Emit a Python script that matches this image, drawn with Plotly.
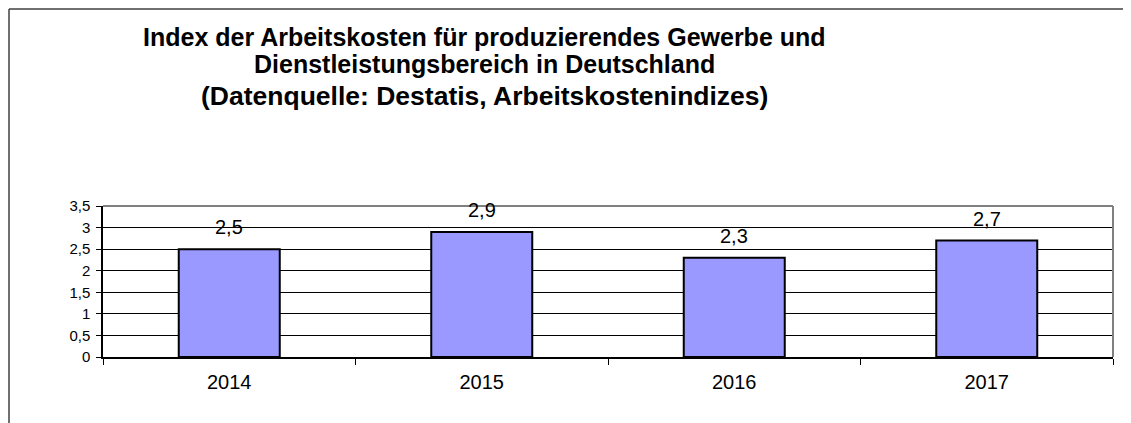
import plotly.graph_objects as go

years = ["2014", "2015", "2016", "2017"]
values = [2.5, 2.9, 2.3, 2.7]
y_ticks = [0, 0.5, 1, 1.5, 2, 2.5, 3, 3.5]
y_labels = ["0", "0,5", "1", "1,5", "2", "2,5", "3", "3,5"]
title_lines = [
    "Index der Arbeitskosten für produzierendes Gewerbe und",
    "Dienstleistungsbereich in Deutschland",
    "(Datenquelle: Destatis, Arbeitskostenindizes)",
]

FONT = "Liberation Sans, Arial, sans-serif"
OFF = 8  # page body margin
W, H = 1131 - OFF, 423 - OFF
L, T = 103 - OFF, 206 - OFF
pw, ph = 1010, 151
R, B = W - L - pw, H - T - ph

fig = go.Figure()
fig.add_trace(go.Bar(
    x=years, y=values, width=0.4,
    marker=dict(color="#9999FF", line=dict(color="black", width=2)),
    hoverinfo="skip",
))

for i, v in enumerate(values):
    fig.add_annotation(x=i, y=v, text=f"{v:.1f}".replace(".", ","),
                       showarrow=False, yanchor="bottom", yshift=9,
                       font=dict(family=FONT, size=20, color="black"))

def px_x(x):
    return (x - OFF - L) / pw

def px_y(y):
    return (H - B - (y - OFF)) / ph

title_y = [37, 64, 96]
title_size = [25, 25, 26.5]
for txt, yy, sz in zip(title_lines, title_y, title_size):
    fig.add_annotation(xref="paper", yref="paper", x=px_x(484), y=px_y(yy),
                       text=f"<b>{txt}</b>", showarrow=False,
                       xanchor="center", yanchor="middle",
                       font=dict(family=FONT, size=sz, color="black"))

shapes = [
    dict(type="line", xref="paper", yref="paper", x0=px_x(9), x1=px_x(9), y0=px_y(9), y1=px_y(440),
         line=dict(color="#404040", width=1.5)),
    dict(type="line", xref="paper", yref="paper", x0=px_x(9), x1=px_x(1150), y0=px_y(9), y1=px_y(9),
         line=dict(color="#404040", width=1.5)),
    dict(type="line", xref="paper", yref="paper", x0=0, x1=1, y0=1, y1=1,
         line=dict(color="#808080", width=2)),
    dict(type="line", xref="paper", yref="paper", x0=1, x1=1, y0=0, y1=1,
         line=dict(color="#808080", width=2)),
]

fig.update_layout(
    width=W, height=H,
    margin=dict(l=L, r=R, t=T, b=B, autoexpand=False),
    paper_bgcolor="white", plot_bgcolor="white",
    showlegend=False, shapes=shapes,
    font=dict(family=FONT, color="black"),
)
fig.update_xaxes(
    type="category", range=[-0.5, 3.5], tickson="boundaries", ticks="outside", ticklen=6,
    tickcolor="black", showline=True, linecolor="black", linewidth=1.5,
    showgrid=False, tickfont=dict(size=20, family=FONT), tickangle=0,
    ticklabelstandoff=6,
)
fig.update_yaxes(
    range=[0, 3.5], tickvals=y_ticks, ticktext=y_labels,
    ticks="outside", ticklen=5, tickcolor="black",
    showline=True, linecolor="black", linewidth=1.5,
    showgrid=True, gridcolor="black", gridwidth=1,
    tickfont=dict(size=15, family=FONT), zeroline=False,
    ticklabelstandoff=3,
)

fig.write_html("out.html")
